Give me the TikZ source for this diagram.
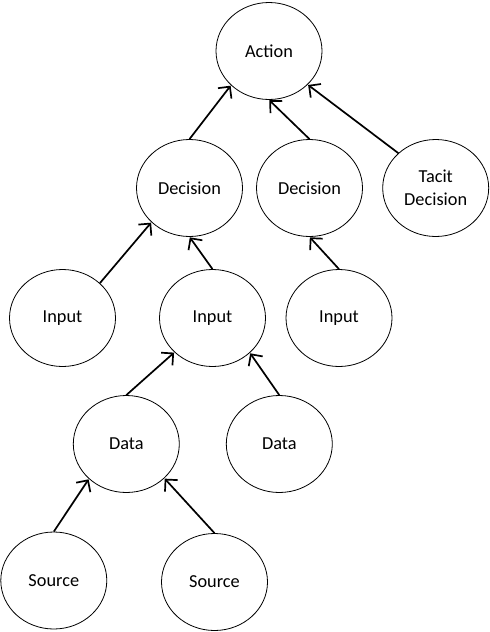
\documentclass[tikz,border=0pt]{standalone}
\usepackage{fontspec}
\setmainfont{Carlito}
\usetikzlibrary{shapes.geometric,arrows.meta}
\begin{document}
\begin{tikzpicture}[x=1pt,y=-1pt,
  bub/.style={draw,ellipse,line width=0.8pt,minimum width=106pt,minimum height=97pt,inner sep=0pt,align=center,
    font=\fontsize{18.3pt}{23pt}\selectfont},
  arr/.style={-{Straight Barb[length=8.5pt,width=17pt,line width=1.7pt]},line width=1.7pt,shorten >=0.5pt}]
\useasboundingbox[fill=white] (0,0) rectangle (490,632);
\node[bub] (action) at (269,51) {Action};
\node[bub] (dec1) at (189.5,188) {Decision};
\node[bub] (dec2) at (309.5,188) {Decision};
\node[bub] (tacit) at (435.7,188) {Tacit\\Decision};
\node[bub] (in1) at (62.5,318) {Input};
\node[bub] (in2) at (212.5,318) {Input};
\node[bub] (in3) at (339,318) {Input};
\node[bub] (data1) at (126.3,444) {Data};
\node[bub] (data2) at (279.3,444) {Data};
\node[bub] (src1) at (53.8,580.5) {Source};
\node[bub] (src2) at (214.5,582) {Source};
\draw[arr] (dec1.north) -- (action.222);
\draw[arr] (dec2.north) -- (action.south);
\draw[arr] (tacit.137) -- (action.319);
\draw[arr] (in1.43) -- (dec1.222);
\draw[arr] (in2.north) -- (dec1.south);
\draw[arr] (in3.north) -- (dec2.south);
\draw[arr] (data1.north) -- (in2.222);
\draw[arr] (data2.north) -- (in2.317);
\draw[arr] (src1.north) -- (data1.223);
\draw[arr] (src2.north) -- (data1.318);
\end{tikzpicture}
\end{document}
